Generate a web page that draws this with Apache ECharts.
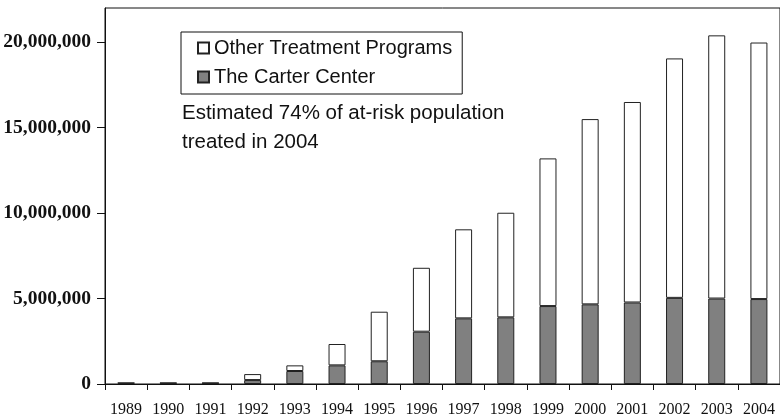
<!DOCTYPE html>
<html>
<head>
<meta charset="utf-8">
<script src="https://cdn.jsdelivr.net/npm/echarts@6/dist/echarts.min.js"></script>
<style>html,body{margin:0;padding:0;background:#fff;}#c{width:780px;height:419px;}</style>
</head>
<body>
<div id="c"></div>
<script>
const years = ['1989','1990','1991','1992','1993','1994','1995','1996','1997','1998','1999','2000','2001','2002','2003','2004'];
const carterCenter = [50000,50000,50000,230000,760000,1090000,1330000,3060000,3840000,3900000,4560000,4660000,4770000,5040000,5000000,4970000];
const otherPrograms = [20000,20000,20000,350000,330000,1250000,2900000,3740000,5210000,6120000,8640000,10840000,11730000,14010000,15400000,15010000];
const yTicks = [0,5000000,10000000,15000000,20000000];
const seriesNames = ['Other Treatment Programs','The Carter Center'];
const noteLines = ['Estimated 74% of at-risk population','treated in 2004'];

const chart = echarts.init(document.getElementById('c'), null, {renderer:'canvas'});
chart.setOption({
  backgroundColor:'#fff',
  animation:false,
  grid:{left:105, top:8, width:677, height:376, show:true, borderColor:'#111', borderWidth:1, backgroundColor:'transparent', containLabel:false},
  legend:{
    orient:'vertical', left:181, top:32,
    data:seriesNames,
    itemWidth:11, itemHeight:11, itemGap:9,
    padding:[6,10,7,16],
    borderColor:'#111', borderWidth:1,
    icon:'rect',
    textStyle:{fontFamily:'Liberation Sans, Arial, sans-serif', fontSize:20, color:'#111'}
  },
  xAxis:{
    type:'category', data:years,
    axisLine:{lineStyle:{color:'#111', width:1}},
    axisTick:{show:true, length:6, lineStyle:{color:'#111'}},
    axisLabel:{fontFamily:'Liberation Serif, Times New Roman, serif', fontSize:16, color:'#111', margin:18, interval:0}
  },
  yAxis:{
    type:'value', min:0, max:22000000,
    splitLine:{show:false},
    axisLine:{show:true, lineStyle:{color:'#111', width:1}},
    axisTick:{show:true, length:8, lineStyle:{color:'#111'}, customValues:yTicks},
    axisLabel:{customValues:yTicks, fontFamily:'Liberation Serif, Times New Roman, serif', fontSize:19.5, fontWeight:'bold', color:'#111', margin:14,
      formatter:v=>v.toLocaleString('en-US')}
  },
  series:[
    {name:seriesNames[1], type:'bar', stack:'t', data:carterCenter, barWidth:17,
     itemStyle:{color:'#808080', borderColor:'#222', borderWidth:1}},
    {name:seriesNames[0], type:'bar', stack:'t', data:otherPrograms, barWidth:17,
     itemStyle:{color:'#fff', borderColor:'#222', borderWidth:1}}
  ],
  graphic:[{
    type:'text', left:182, top:99,
    style:{text:noteLines.join('\n'), font:'20.5px "Liberation Sans", Arial, sans-serif', fill:'#111', lineHeight:29}
  }]
});
</script>
</body>
</html>
